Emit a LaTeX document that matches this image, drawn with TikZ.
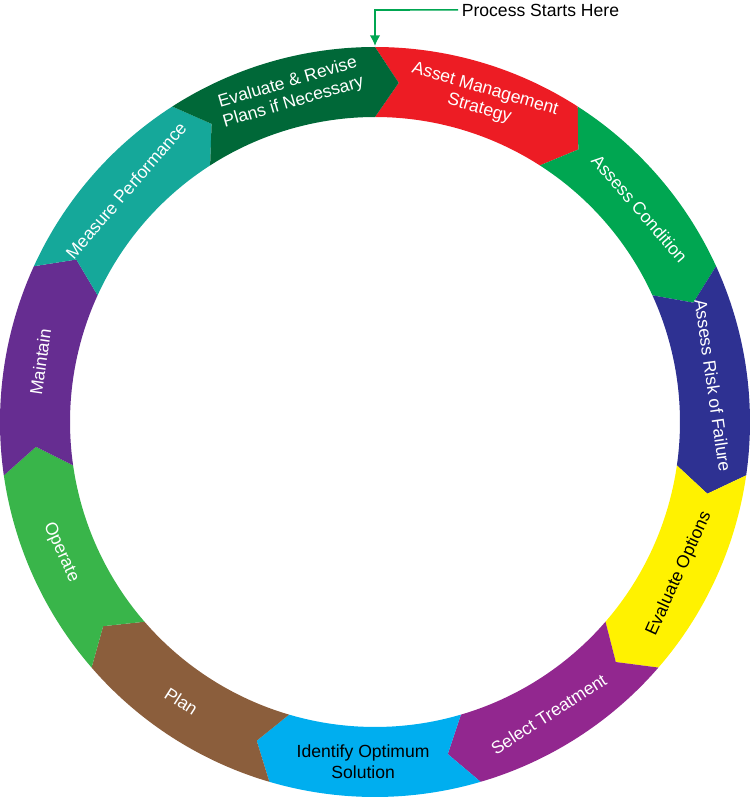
\documentclass[tikz,border=0pt]{standalone}
\usepackage{fontspec}
\setmainfont{Liberation Sans}
\usetikzlibrary{arrows.meta}
\definecolor{amsred}{RGB}{237,28,36}
\definecolor{condgreen}{RGB}{0,166,81}
\definecolor{risknavy}{RGB}{46,49,146}
\definecolor{optyellow}{RGB}{255,242,0}
\definecolor{treatpurple}{RGB}{146,39,143}
\definecolor{solcyan}{RGB}{0,174,239}
\definecolor{planbrown}{RGB}{139,94,60}
\definecolor{opgreen}{RGB}{57,181,74}
\definecolor{maintpurple}{RGB}{102,45,145}
\definecolor{measteal}{RGB}{21,168,154}
\definecolor{revgreen}{RGB}{0,104,56}
\tikzset{
  steptext/.style={align=center,font=\fontsize{10}{11.5}\selectfont,inner sep=0pt},
  startarrow/.style={draw=condgreen,line width=0.9pt,-{Latex[length=6pt,width=6pt]}}
}
\begin{document}
\begin{tikzpicture}[scale=0.02]
\useasboundingbox (-375,-375) rectangle (375,422);

% ring of steps, clockwise from the top
\foreach \i/\col/\tcol/\flip/\txt in {
  0/amsred/white/-90/{Asset Management\\Strategy},
  1/condgreen/white/-90/{Assess Condition},
  2/risknavy/white/-90/{Assess Risk of Failure},
  3/optyellow/black/90/{Evaluate Options},
  4/treatpurple/white/90/{Select Treatment},
  5/solcyan/black/90/{Identify Optimum\\Solution},
  6/planbrown/white/90/{Plan},
  7/opgreen/white/90/{Operate},
  8/maintpurple/white/-90/{Maintain},
  9/measteal/white/-90/{Measure Performance},
  10/revgreen/white/-90/{Evaluate \& Revise\\Plans if Necessary}}
{
  \pgfmathsetmacro\a{90-360/11*\i}
  \pgfmathsetmacro\b{\a-360/11}
  \pgfmathsetmacro\m{(\a+\b)/2}
  \fill[\col] (\a:375) arc[start angle=\a,end angle=\b,radius=375]
    -- (\b-4:340) -- (\b:305) arc[start angle=\b,end angle=\a,radius=305]
    -- (\a-4:340) -- cycle;
  \node[steptext,text=\tcol,rotate=\m+\flip] (step\i) at (\m-2:340) {\txt};
}

% start marker
\coordinate (start) at (90:376);
\node[anchor=west,font=\fontsize{10}{12}\selectfont,inner sep=2pt] (ps) at (83,412) {Process Starts Here};
\draw[startarrow] (ps.west) -- (0,412) -- (start);
\end{tikzpicture}
\end{document}
